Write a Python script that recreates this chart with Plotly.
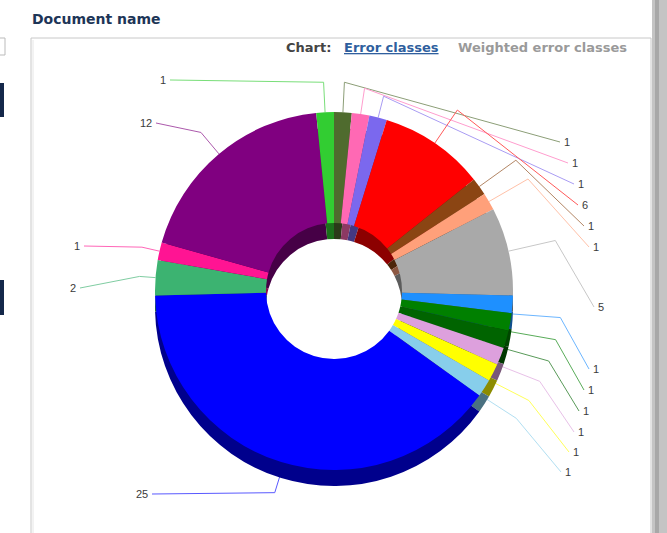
import math
import plotly.graph_objects as go

# ---------------- data ----------------
categories = [f"Error class {i}" for i in range(1, 19)]
values = [1, 1, 1, 6, 1, 1, 5, 1, 1, 1, 1, 1, 1, 25, 2, 1, 12, 1]
colors = ["#4F6B2E", "#FF69B4", "#7B68EE", "#FF0000", "#8B4513", "#FFA07A",
          "#A9A9A9", "#1E90FF", "#008000", "#006400", "#DDA0DD", "#FFFF00",
          "#87CEEB", "#0000FF", "#3CB371", "#FF1493", "#800080", "#32CD32"]

# ---------------- layout constants ----------------
W, H = 667, 533
CX, CY, R = 334, 291, 179
DEPTH = 16
HOLE = 0.38

# label anchor (px) and radial leader extension for each slice
label_pos = [(560, 142), (568, 163), (574, 184), (578, 205), (584, 226), (589, 247),
             (594, 307), (589, 369), (584, 390), (579, 411), (574, 432), (569, 452),
             (561, 472), (152, 494), (80, 288), (84, 246), (156, 123), (170, 80)]
leader_ext = [30, 26, 22, 40, 45, 45, 48, 48, 46, 44, 42, 40, 38, 22, 16, 18, 28, 30]


def darken(hexc, f=0.55):
    hexc = hexc.lstrip("#")
    r, g, b = (int(hexc[i:i + 2], 16) for i in (0, 2, 4))
    return "#%02x%02x%02x" % (int(r * f), int(g * f), int(b * f))


def lighten(hexc, f=0.35):
    hexc = hexc.lstrip("#")
    r, g, b = (int(hexc[i:i + 2], 16) for i in (0, 2, 4))
    return "#%02x%02x%02x" % tuple(int(c + (255 - c) * f) for c in (r, g, b))


def dom(cx, cy, r):
    return dict(x=[(cx - r) / W, (cx + r) / W], y=[1 - (cy + r) / H, 1 - (cy - r) / H])


def px(x, y):
    return x / W, 1 - y / H


fig = go.Figure()
# side wall (3D depth)
fig.add_trace(go.Pie(labels=categories, values=values, hole=HOLE, sort=False,
                     direction="clockwise", rotation=0, textinfo="none",
                     hoverinfo="skip", showlegend=False,
                     marker=dict(colors=[darken(c) for c in colors], line=dict(width=0)),
                     domain=dom(CX, CY + DEPTH, R)))
# top face
fig.add_trace(go.Pie(labels=categories, values=values, hole=HOLE, sort=False,
                     direction="clockwise", rotation=0, textinfo="none",
                     hoverinfo="label+value", showlegend=False,
                     marker=dict(colors=colors, line=dict(width=0)),
                     domain=dom(CX, CY, R)))

shapes = []
annotations = []
total = sum(values)
cum = 0
for i, v in enumerate(values):
    mid = (cum + v / 2) / total * 2 * math.pi
    cum += v
    sx, sy = CX + R * math.sin(mid), CY - R * math.cos(mid)
    if math.cos(mid) < 0:
        sy += DEPTH * 0.6
    ex, ey = CX + (R + leader_ext[i]) * math.sin(mid), CY - (R + leader_ext[i]) * math.cos(mid)
    if math.cos(mid) < 0:
        ey += DEPTH * 0.6
    lx, ly = label_pos[i]
    p = [px(sx, sy), px(ex, ey), px(lx, ly)]
    path = "M {:.5f} {:.5f} L {:.5f} {:.5f} L {:.5f} {:.5f}".format(*p[0], *p[1], *p[2])
    shapes.append(dict(type="path", path=path, xref="paper", yref="paper",
                       line=dict(color=lighten(colors[i]), width=1), layer="below"))
    right = lx > CX
    ax, ay = px(lx + (2 if right else -2), ly)
    annotations.append(dict(x=ax, y=ay, xref="paper", yref="paper", text=str(v),
                            showarrow=False, xanchor="left" if right else "right",
                            yanchor="middle",
                            font=dict(family="Liberation Sans, Arial", size=11, color="#3a3a3a")))

# page decoration: frame, shadow, left bits
x0, y0 = px(31, 38)
x1, y1 = px(651, 540)
shapes.append(dict(type="rect", xref="paper", yref="paper", x0=x0, y0=y1, x1=x1, y1=y0,
                   line=dict(color="#c8c8c8", width=1), layer="below"))
a, b = px(33, 40)
shapes.append(dict(type="line", xref="paper", yref="paper", x0=a, y0=b, x1=a, y1=0,
                   line=dict(color="#e6e6e6", width=1), layer="below"))
a0, b0 = px(652, 0)
a1, b1 = px(667, 533)
shapes.append(dict(type="rect", xref="paper", yref="paper", x0=a0, y0=b1, x1=a1, y1=b0,
                   fillcolor="#c4c4c4", line=dict(width=0), layer="below"))
a0, _ = px(655, 0)
a1, _ = px(659, 0)
shapes.append(dict(type="rect", xref="paper", yref="paper", x0=a0, y0=b1, x1=a1, y1=b0,
                   fillcolor="#a8a8a8", line=dict(width=0), layer="below"))
for (ya, yb) in [(83, 117), (280, 315)]:
    a0, c0 = px(0, ya)
    a1, c1 = px(4, yb)
    shapes.append(dict(type="rect", xref="paper", yref="paper", x0=a0, y0=c1, x1=a1, y1=c0,
                       fillcolor="#14284a", line=dict(width=0), layer="below"))
a0, c0 = px(-2, 38)
a1, c1 = px(5, 55)
shapes.append(dict(type="rect", xref="paper", yref="paper", x0=a0, y0=c1, x1=a1, y1=c0,
                   line=dict(color="#bbbbbb", width=1), layer="below"))

hdr_font = "Tahoma, DejaVu Sans, Verdana"
annotations.append(dict(x=px(30, 19)[0], y=px(30, 19)[1], xref="paper", yref="paper",
                        text="<b>Document name</b>", showarrow=False, xanchor="left",
                        yanchor="middle", font=dict(family=hdr_font, size=14, color="#1d3557")))
annotations.append(dict(x=px(284, 47)[0], y=px(284, 47)[1], xref="paper", yref="paper",
                        text="<b>Chart:</b>", showarrow=False, xanchor="left", yanchor="middle",
                        font=dict(family=hdr_font, size=13, color="#444444")))
annotations.append(dict(x=px(342, 47)[0], y=px(342, 47)[1], xref="paper", yref="paper",
                        text="<b><u>Error classes</u></b>", showarrow=False, xanchor="left",
                        yanchor="middle", font=dict(family=hdr_font, size=13, color="#2f5f9e")))
annotations.append(dict(x=px(456, 47)[0], y=px(456, 47)[1], xref="paper", yref="paper",
                        text="<b>Weighted error classes</b>", showarrow=False, xanchor="left",
                        yanchor="middle", font=dict(family=hdr_font, size=13, color="#9a9a9a")))

fig.update_layout(width=W, height=H, margin=dict(l=0, r=0, t=0, b=0),
                  paper_bgcolor="white", plot_bgcolor="white",
                  shapes=shapes, annotations=annotations, showlegend=False)

fig.write_html("out.html")
